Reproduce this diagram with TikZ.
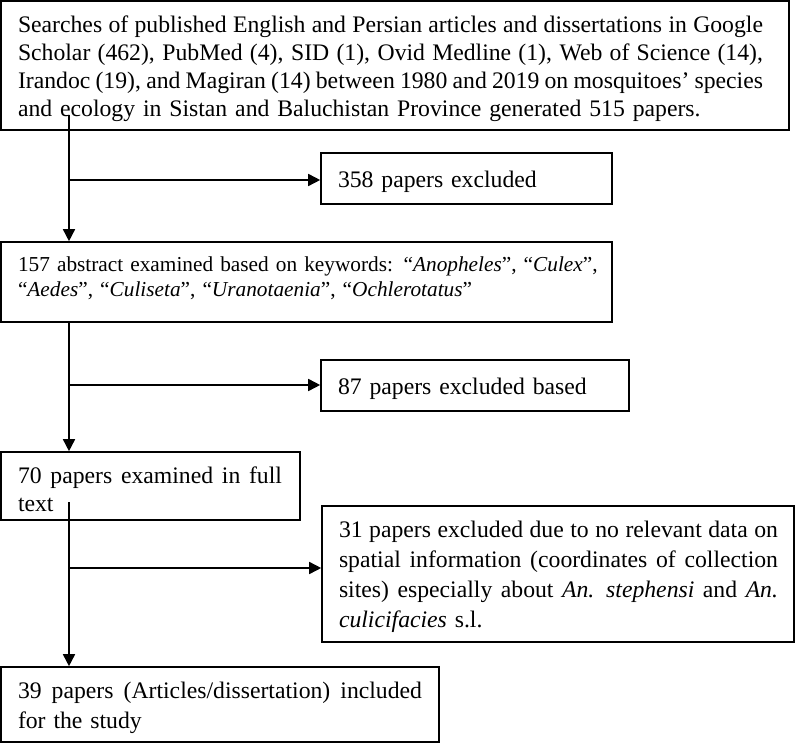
\documentclass[tikz,border=0pt]{standalone}
\usepackage{fontspec}
\setmainfont{Liberation Serif}
\usetikzlibrary{arrows.meta}
\newcommand{\myjline}[2]{\makebox[#1][s]{\spaceskip=0.25em plus 0.6em minus 0.2em\relax #2}}
\newcommand{\mylline}[2]{\makebox[#1][l]{#2}}
\newcommand{\myup}{\rule{0pt}{22.5pt}}
\begin{document}
\begin{tikzpicture}[x=1pt,y=-1pt,
  box/.style={draw, line width=1.6pt, inner ysep=0pt, inner xsep=17pt, anchor=center, align=left},
  arr/.style={line width=1.6pt, -{Triangle[length=12pt,width=12pt]}},
  big/.style={font=\fontsize{23.7}{28}\selectfont},
  bigw/.style={font=\fontsize{23.7}{30}\selectfont},
  mid/.style={font=\fontsize{21.3}{25}\selectfont}]
\useasboundingbox (0,0) rectangle (795,743);
\node[box, big, minimum width=788pt, minimum height=129pt, text width=754pt] (b1) at (395,65.5)
 {\myjline{745pt}{\myup Searches of published English and Persian articles and dissertations in Google}\\
  \myjline{745pt}{Scholar (462), PubMed (4), SID (1), Ovid Medline (1), Web of Science (14),}\\
  \myjline{745pt}{Irandoc (19), and Magiran (14) between 1980 and 2019 on mosquitoes’ species}\\
  \mylline{745pt}{and ecology in Sistan and Baluchistan Province generated 515 papers.}};
\node[box, big, minimum width=291pt, minimum height=51pt, text width=257pt] (b358) at (466.5,178.5) {\mylline{257pt}{\myup 358 papers excluded}};
\node[box, mid, minimum width=611pt, minimum height=80pt, text width=577pt] (b2) at (306.5,282)
 {\mylline{577pt}{157 abstract examined based on keywords: “\textit{Anopheles}”, “\textit{Culex}”,}\\
  \mylline{577pt}{“\textit{Aedes}”, “\textit{Culiseta}”, “\textit{Uranotaenia}”, “\textit{Ochlerotatus}”\rule[-10pt]{0pt}{10pt}}};
\node[box, big, minimum width=308pt, minimum height=51pt, text width=274pt] (b87) at (475,385.5) {\mylline{274pt}{\myup 87 papers excluded based}};
\node[box, big, minimum width=299pt, minimum height=68pt, text width=265pt] (b3) at (150.5,486)
 {\myjline{264pt}{\myup 70 papers examined in full}\\ \mylline{264pt}{text}};
\node[box, bigw, minimum width=472pt, minimum height=136pt, text width=438pt] (b4) at (558,574)
 {\myjline{439pt}{\myup 31 papers excluded due to no relevant data on}\\
  \myjline{439pt}{spatial information (coordinates of collection}\\
  \myjline{439pt}{sites) especially about \textit{An. stephensi} and \textit{An.}}\\
  \mylline{439pt}{\textit{culicifacies} s.l.}};
\node[box, bigw, minimum width=438pt, minimum height=75pt, text width=404pt] (b5) at (220,704.5)
 {\myjline{404pt}{\myup 39 papers (Articles/dissertation) included}\\ \mylline{404pt}{for the study}};
\coordinate (s1) at (69,115);
\coordinate (j1) at (69,180);
\coordinate (j2) at (69,385);
\coordinate (s3) at (69,502);
\coordinate (j3) at (69,568);
\draw[arr] (s1) -- (s1 |- b2.north);
\draw[arr] (j1) -- (j1 -| b358.west);
\draw[arr] (b2.south -| s1) -- (s1 |- b3.north);
\draw[arr] (j2) -- (j2 -| b87.west);
\draw[arr] (s3) -- (s3 |- b5.north);
\draw[arr] (j3) -- (j3 -| b4.west);
\end{tikzpicture}
\end{document}
